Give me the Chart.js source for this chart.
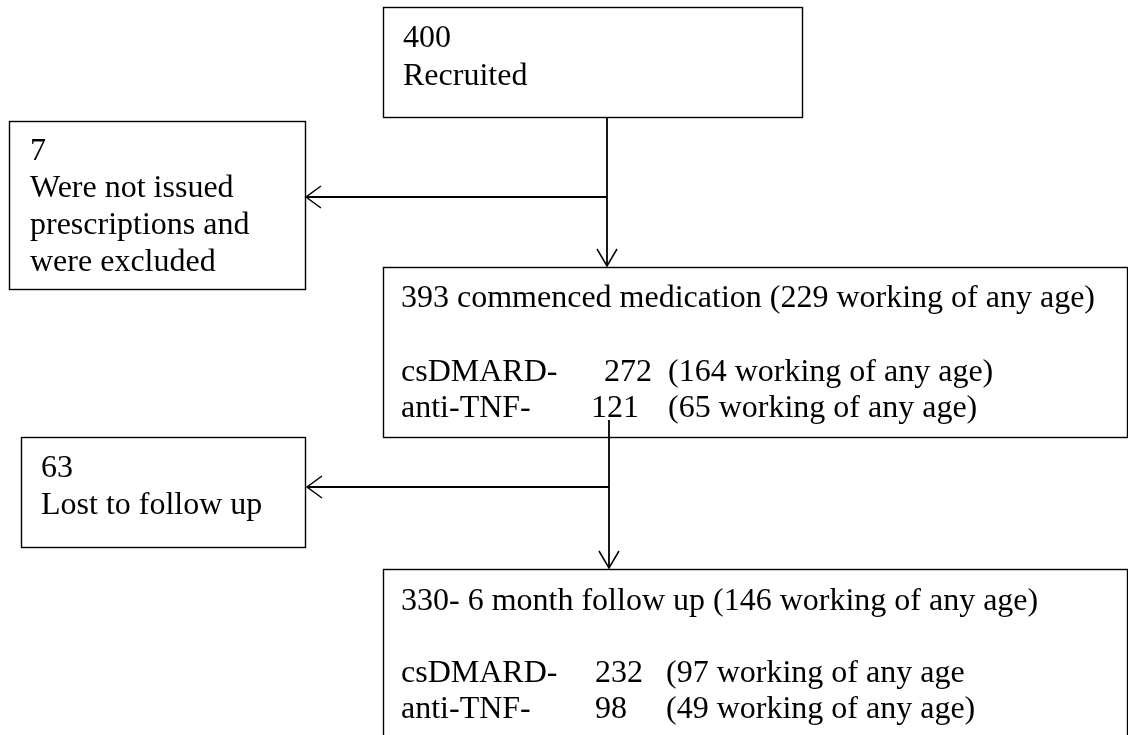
<!DOCTYPE html>
<html>
<head>
<meta charset="utf-8">
<script src="https://cdn.jsdelivr.net/npm/chart.js@4.4.1/dist/chart.umd.min.js"></script>
<style>
  html, body { margin: 0; padding: 0; background: #ffffff; }
  #wrap { width: 1128px; height: 735px; position: relative; }
</style>
</head>
<body>
<div id="wrap"><canvas id="c" width="1128" height="735"></canvas></div>
<script>
// ---- data ----
const stageCounts = [400, 393, 330];
const stageLabels = ['Recruited', 'commenced medication', '6 month follow up'];
const stageWorking = [null, 229, 146];
const exclusionCounts = [7, 63];
const exclusionLabels = [['Were not issued', 'prescriptions and', 'were excluded'], ['Lost to follow up']];
const groupNames = ['csDMARD-', 'anti-TNF-'];
const csdmardCounts = [272, 232];
const antiTnfCounts = [121, 98];
const csdmardWorking = [164, 97];
const antiTnfWorking = [65, 49];

// ---- layout (canvas coordinates, y down) ----
const FONT = '32px "Liberation Serif", "Times New Roman", serif';
const boxes = {
  recruited: [383, 7, 802, 117],
  excl1: [9, 121, 305, 289],
  commenced: [383, 267, 1127, 437],
  excl2: [21, 437, 305, 547],
  follow: [383, 569, 1127, 740]
};

function buildTexts() {
  const t = [];
  t.push([403, 47, String(stageCounts[0])]);
  t.push([403, 85, stageLabels[0]]);
  t.push([30, 160, String(exclusionCounts[0])]);
  exclusionLabels[0].forEach((s, i) => t.push([30, 197 + i * 37, s]));
  t.push([401, 307, stageCounts[1] + ' ' + stageLabels[1] + ' (' + stageWorking[1] + ' working of any age)']);
  t.push([401, 381, groupNames[0]]);
  t.push([604, 381, String(csdmardCounts[0])]);
  t.push([668, 381, '(' + csdmardWorking[0] + ' working of any age)']);
  t.push([401, 417, groupNames[1]]);
  t.push([591, 417, String(antiTnfCounts[0])]);
  t.push([668, 417, '(' + antiTnfWorking[0] + ' working of any age)']);
  t.push([41, 477, String(exclusionCounts[1])]);
  t.push([41, 514, exclusionLabels[1][0]]);
  t.push([401, 610, stageCounts[2] + '- ' + stageLabels[2] + ' (' + stageWorking[2] + ' working of any age)']);
  t.push([401, 682, groupNames[0]]);
  t.push([595, 682, String(csdmardCounts[1])]);
  t.push([666, 682, '(' + csdmardWorking[1] + ' working of any age']);
  t.push([401, 718, groupNames[1]]);
  t.push([595, 718, String(antiTnfCounts[1])]);
  t.push([666, 718, '(' + antiTnfWorking[1] + ' working of any age)']);
  return t;
}

const lines = [
  [[607, 117], [607, 266]],
  [[607, 197], [306, 197]],
  [[609, 420], [609, 568]],
  [[609, 487], [307, 487]]
];
const arrows = [
  [607, 266, 'down'],
  [306, 197, 'left'],
  [609, 568, 'down'],
  [307, 487, 'left']
];

const flowPlugin = {
  id: 'flow',
  afterDraw(chart) {
    const ctx = chart.ctx;
    const xs = chart.scales.x, ys = chart.scales.y;
    const X = v => xs.getPixelForValue(v);
    const Y = v => ys.getPixelForValue(v);
    ctx.save();
    ctx.fillStyle = '#ffffff';
    ctx.fillRect(0, 0, chart.width, chart.height);
    ctx.strokeStyle = '#000000';
    ctx.lineWidth = 1.4;
    Object.values(boxes).forEach(b => {
      ctx.strokeRect(X(b[0]) + 0.5, Y(b[1]) + 0.5, X(b[2]) - X(b[0]), Y(b[3]) - Y(b[1]));
    });
    ctx.lineWidth = 1.8;
    lines.forEach(l => {
      ctx.beginPath();
      ctx.moveTo(X(l[0][0]), Y(l[0][1]));
      ctx.lineTo(X(l[1][0]), Y(l[1][1]));
      ctx.stroke();
    });
    ctx.lineWidth = 1.5;
    arrows.forEach(a => {
      const x = X(a[0]), y = Y(a[1]);
      ctx.beginPath();
      if (a[2] === 'down') {
        ctx.moveTo(x - 10, y - 17); ctx.lineTo(x, y); ctx.lineTo(x + 10, y - 17);
      } else {
        ctx.moveTo(x + 15, y - 11); ctx.lineTo(x, y); ctx.lineTo(x + 15, y + 11);
      }
      ctx.stroke();
    });
    ctx.fillStyle = '#000000';
    ctx.font = FONT;
    ctx.textBaseline = 'alphabetic';
    ctx.textAlign = 'left';
    buildTexts().forEach(t => {
      ctx.fillText(t[2], X(t[0]), Y(t[1]));
    });
    ctx.restore();
  }
};

new Chart(document.getElementById('c'), {
  type: 'scatter',
  data: {
    datasets: [{
      data: stageCounts.map(() => ({ x: 0, y: 0 })),
      pointRadius: 0,
      showLine: false
    }]
  },
  options: {
    responsive: false,
    animation: false,
    devicePixelRatio: 1,
    layout: { padding: 0 },
    plugins: { legend: { display: false }, tooltip: { enabled: false } },
    scales: {
      x: { type: 'linear', min: 0, max: 1128, display: false },
      y: { type: 'linear', min: 0, max: 735, reverse: true, display: false }
    }
  },
  plugins: [flowPlugin]
});
</script>
</body>
</html>
